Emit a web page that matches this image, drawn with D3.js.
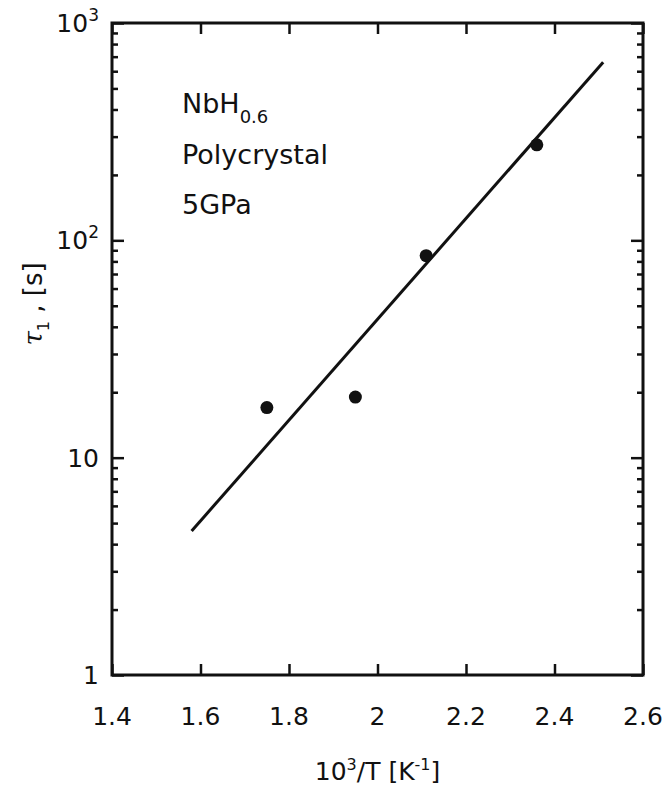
<!DOCTYPE html>
<html>
<head>
<meta charset="utf-8">
<script src="https://cdn.jsdelivr.net/npm/d3@7"></script>
<style>
  body { margin: 0; background: #fff; }
  text { font-family: "DejaVu Sans", sans-serif; fill: #111; }
</style>
</head>
<body>
<div class="chart"></div>
<script>
// measured points: 10^3/T vs tau_1
var invT = [1.75, 1.95, 2.11, 2.36];
var tau = [17, 19, 85, 275];

// fitted line end points
var fitX = [1.58, 2.51];
var fitY = [4.6, 660];

var xTicks = [1.4, 1.6, 1.8, 2.0, 2.2, 2.4, 2.6];
var xTickLabels = ["1.4", "1.6", "1.8", "2", "2.2", "2.4", "2.6"];
var yMajor = [1, 10, 100, 1000];

var W = 666, H = 790;
var margin = { top: 23, right: 23, bottom: 115, left: 112 },
    width = W - margin.left - margin.right,
    height = H - margin.top - margin.bottom;

var x = d3.scaleLinear().domain([1.4, 2.6]).range([0, width]);
var y = d3.scaleLog().domain([1, 1000]).range([height, 0]);

var svg = d3.select(".chart").append("svg")
    .attr("width", W)
    .attr("height", H)
    .append("g")
    .attr("transform", "translate(" + margin.left + "," + margin.top + ")");

// minor ticks for log axis
var yMinor = [];
for (var d = 1; d < 1000; d *= 10) {
    for (var k = 2; k <= 9; k++) yMinor.push(d * k);
}

// frame + inward ticks
function tickAxis(axis, ticks, size) {
    return axis.tickValues(ticks).tickSize(size).tickFormat("");
}

svg.append("g").attr("transform", "translate(0," + height + ")")
    .call(tickAxis(d3.axisTop(x), xTicks, 11));
svg.append("g")
    .call(tickAxis(d3.axisBottom(x), xTicks, 11));
svg.append("g")
    .call(tickAxis(d3.axisRight(y), yMajor, 12));
svg.append("g")
    .call(tickAxis(d3.axisRight(y), yMinor, 6));
svg.append("g").attr("transform", "translate(" + width + ",0)")
    .call(tickAxis(d3.axisLeft(y), yMajor, 12));
svg.append("g").attr("transform", "translate(" + width + ",0)")
    .call(tickAxis(d3.axisLeft(y), yMinor, 6));

svg.selectAll(".domain").remove();
svg.selectAll(".tick line").attr("stroke", "#111").attr("stroke-width", 2.5);

svg.append("rect")
    .attr("width", width).attr("height", height)
    .attr("fill", "none").attr("stroke", "#111").attr("stroke-width", 3);

// tick labels
svg.selectAll(".xlab")
    .data(xTicks)
    .enter().append("text")
    .attr("x", function (d) { return x(d); })
    .attr("y", height + 50)
    .attr("text-anchor", "middle")
    .style("font-size", "25px")
    .text(function (d, i) { return xTickLabels[i]; });

var yl = svg.selectAll(".ylab")
    .data(yMajor)
    .enter().append("text")
    .attr("x", -13)
    .attr("y", function (d) { return y(d) + 9; })
    .attr("text-anchor", "end")
    .style("font-size", "25px");
yl.each(function (d) {
    var t = d3.select(this);
    if (d < 100) {
        t.text(d);
    } else {
        t.append("tspan").text("10");
        t.append("tspan").attr("dy", -11).style("font-size", "17px").text(Math.round(Math.log10(d)));
    }
});

// fit line
var line = d3.line()
    .x(function (d) { return x(d[0]); })
    .y(function (d) { return y(d[1]); });

svg.append("path")
    .datum(d3.zip(fitX, fitY))
    .attr("d", line)
    .attr("fill", "none")
    .attr("stroke", "#111")
    .attr("stroke-width", 3);

svg.selectAll(".dot")
    .data(d3.zip(invT, tau))
    .enter().append("circle")
    .attr("cx", function (d) { return x(d[0]); })
    .attr("cy", function (d) { return y(d[1]); })
    .attr("r", 6.5)
    .attr("fill", "#111");

// annotation
var ann = svg.append("g").style("font-size", "27px");
var t1 = ann.append("text").attr("x", 70).attr("y", 90);
t1.append("tspan").text("NbH");
t1.append("tspan").attr("dy", 10).style("font-size", "18px").text("0.6");
ann.append("text").attr("x", 70).attr("y", 141).text("Polycrystal");
ann.append("text").attr("x", 70).attr("y", 191).text("5GPa");

// axis titles
var xt = svg.append("text")
    .attr("x", width / 2)
    .attr("y", height + 105)
    .attr("text-anchor", "middle")
    .style("font-size", "25px");
xt.append("tspan").text("10");
xt.append("tspan").attr("dy", -10).style("font-size", "16px").text("3");
xt.append("tspan").attr("dy", 10).text("/T [K");
xt.append("tspan").attr("dy", -10).style("font-size", "16px").text("-1");
xt.append("tspan").attr("dy", 10).text("]");

var yt = svg.append("text")
    .attr("transform", "translate(" + (-70) + "," + (height / 2 - 45) + ") rotate(-90)")
    .attr("text-anchor", "middle")
    .style("font-size", "26px");
yt.append("tspan").style("font-family", "DejaVu Serif").style("font-style", "italic").text("\u03c4");
yt.append("tspan").attr("dy", 7).style("font-size", "16px").text("1");
yt.append("tspan").attr("dy", -7).text(" , [s]");
</script>
</body>
</html>
